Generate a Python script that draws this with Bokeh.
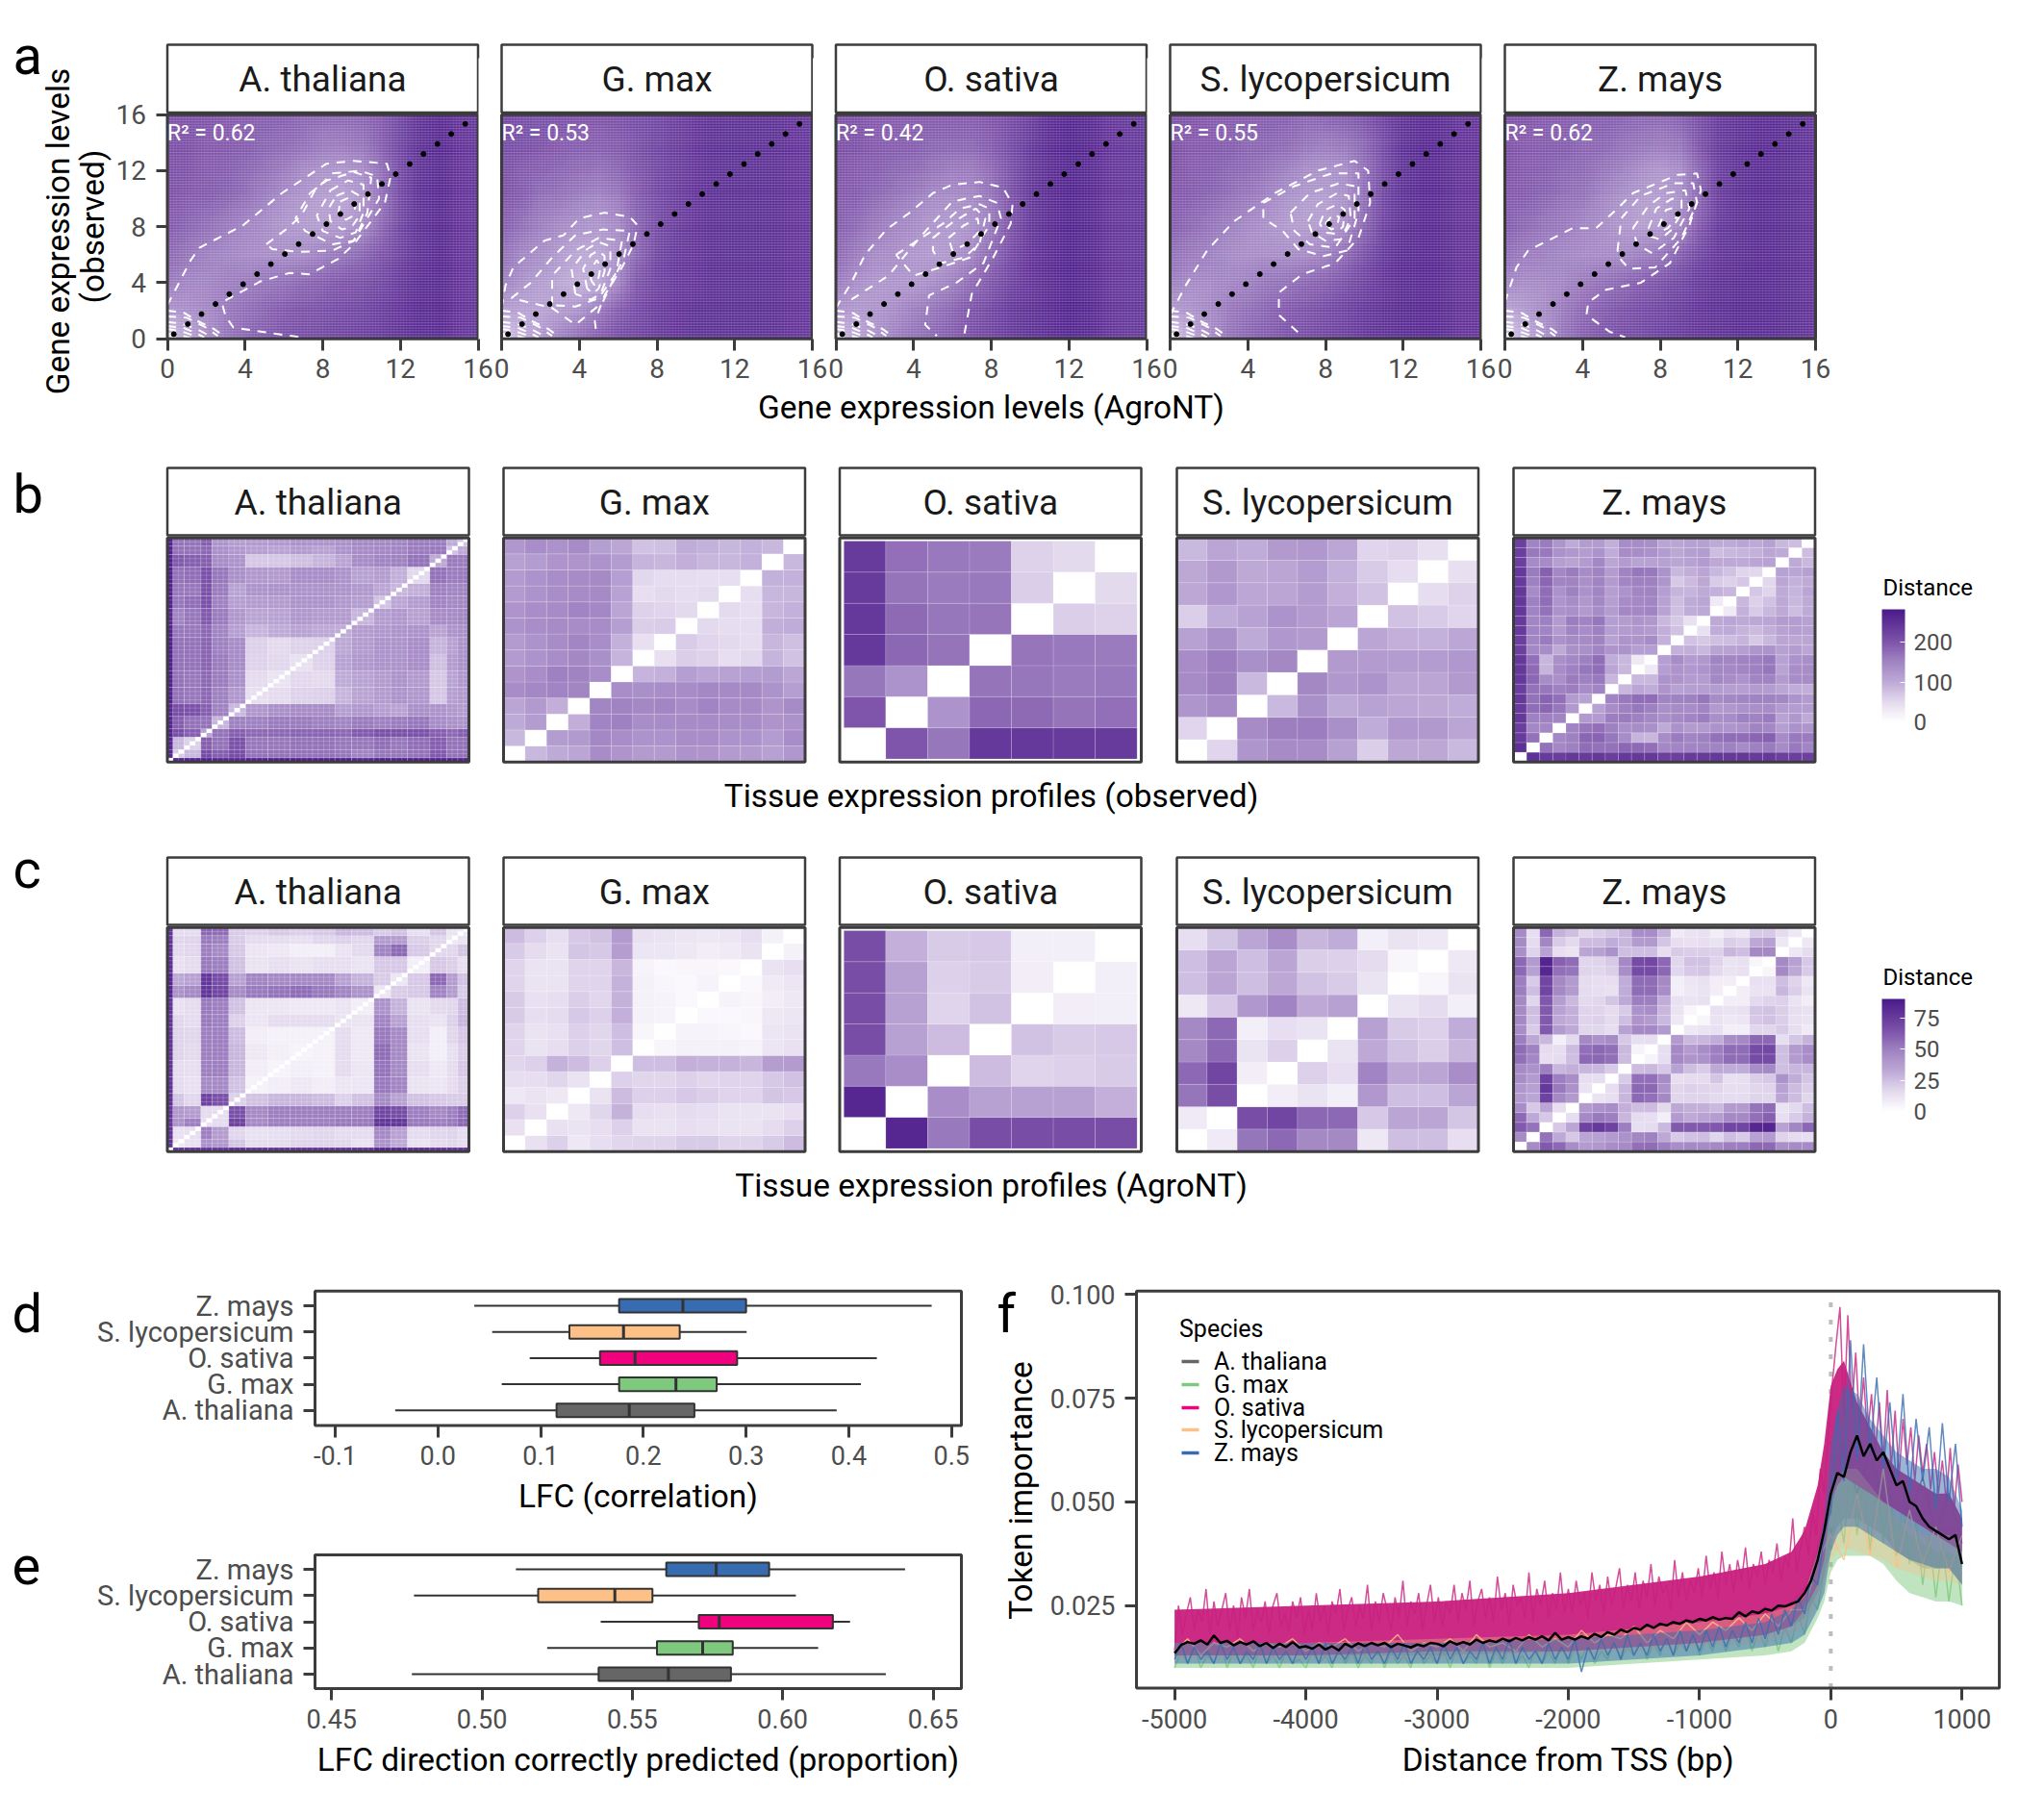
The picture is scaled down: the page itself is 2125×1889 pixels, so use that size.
import numpy as np
from bokeh.embed import file_html
from bokeh.resources import INLINE
from bokeh.plotting import figure
from bokeh.models import Range1d, LinearAxis, FixedTicker, Label, LinearColorMapper, ColorBar, NumeralTickFormatter, ColumnDataSource

SPECIES = ["A. thaliana", "G. max", "O. sativa", "S. lycopersicum", "Z. mays"]
COLORS = ["#666666", "#7fc97f", "#f0027f", "#fdc086", "#386cb0"]
R2 = ["0.62", "0.53", "0.42", "0.55", "0.62"]

# panel a: background density (darkness 0-100); rows y=16,14,...,0 and columns x=0..16
BG_ATH = [[72,72,72,70,70,68,68,66,65,65,66,70,78,88,92,86,84],[72,72,70,70,68,66,64,62,58,58,60,68,78,88,92,86,84],[72,72,70,68,66,62,58,52,48,46,50,62,76,88,92,86,84],[72,70,68,66,62,56,50,46,42,40,46,60,76,88,92,86,84],[70,66,62,58,54,50,46,44,42,44,50,64,78,88,92,86,84],[64,60,56,54,52,50,50,52,56,60,66,72,80,88,92,86,84],[58,54,54,56,58,60,62,66,68,72,74,78,84,90,92,86,84],[46,48,52,58,62,66,70,72,74,76,78,82,86,90,92,86,84],[25,38,50,60,66,70,74,76,78,80,82,84,88,90,92,86,84]]
BG_GMA = [[78,76,74,74,72,72,74,76,78,82,86,88,88,88,88,86,84],[76,74,72,70,68,68,70,74,78,82,86,88,88,88,88,86,84],[74,70,68,66,64,62,66,72,78,82,86,88,88,88,88,86,84],[72,68,62,60,56,54,58,68,76,82,86,88,88,88,88,86,84],[68,62,56,52,48,46,52,66,76,82,86,88,88,88,88,86,84],[62,54,50,44,38,38,48,66,78,84,86,88,88,88,88,86,84],[56,48,42,38,34,38,54,72,80,84,86,88,88,88,88,86,84],[42,40,40,44,48,58,68,76,82,86,88,88,88,88,88,86,84],[22,34,46,56,64,70,76,80,84,86,88,88,88,88,88,86,84]]
BG_OSA = [[72,72,70,70,70,70,70,70,72,76,82,90,94,92,86,84,84],[72,72,70,68,68,66,66,66,70,76,84,90,94,92,86,84,84],[72,70,68,66,64,60,58,58,64,74,84,90,94,92,86,84,84],[70,68,64,60,56,52,50,52,60,72,84,90,94,92,86,84,84],[68,64,58,54,50,46,44,48,58,72,84,90,94,92,86,84,84],[64,58,52,50,46,44,46,54,66,76,86,90,94,92,86,84,84],[58,50,46,46,46,50,56,64,72,80,86,90,94,92,86,84,84],[46,44,46,50,56,60,66,72,78,84,88,90,94,92,86,84,84],[28,38,48,56,62,66,70,76,80,84,88,90,94,92,86,84,84]]
BG_SLY = [[72,72,70,70,70,68,68,66,68,70,74,82,88,92,90,86,86],[72,70,70,68,66,66,64,60,58,60,66,76,88,92,90,86,86],[72,70,68,66,64,60,56,50,48,50,62,76,88,92,90,86,86],[70,68,66,62,58,54,48,44,42,48,62,78,88,92,90,86,86],[68,64,60,56,52,48,44,42,42,50,66,80,88,92,90,86,86],[62,58,56,52,50,50,50,52,56,64,74,84,90,92,90,86,86],[56,52,52,54,56,60,62,66,68,74,80,86,90,92,90,86,86],[42,46,52,58,62,66,70,72,76,80,84,88,90,92,90,86,86],[24,36,50,60,66,70,74,76,80,82,86,88,90,92,90,86,86]]
BG_ZMA = [[72,72,70,70,68,68,68,66,66,68,76,84,88,90,90,88,86],[72,70,68,68,66,66,62,60,58,60,72,84,88,90,90,88,86],[72,70,68,66,64,60,56,50,46,50,66,82,88,90,90,88,86],[70,68,66,62,60,54,48,44,42,48,66,82,88,90,90,88,86],[68,64,60,58,54,50,46,42,44,52,70,84,88,90,90,88,86],[62,58,56,54,52,52,52,56,60,68,78,86,88,90,90,88,86],[54,50,52,54,58,62,66,70,74,78,84,88,90,90,90,88,86],[38,44,50,58,64,68,72,76,78,82,86,88,90,90,90,88,86],[22,34,48,60,68,72,76,78,82,84,86,88,90,90,90,88,86]]
BACKGROUNDS = [BG_ATH, BG_GMA, BG_OSA, BG_SLY, BG_ZMA]
DIAG_DOTS = [0.33,1.05,1.76,2.48,3.19,3.9,4.62,5.33,6.05,6.76,7.48,8.19,8.91,9.62,10.33,11.05,11.76,12.48,13.19,13.91,14.62,15.34]

# panel a: density contours, (x, y) pairs in expression units
NEAR_ORIGIN = [[(0,2),(0.8,1.9),(1.5,1.3),(2.4,0.7),(2.9,0.2)],[(0,1.6),(1,1.5),(2,0.8),(2.6,0.2)],[(0,1.2),(0.7,1.1),(1.5,0.7),(2.2,0.2)],[(0,0.9),(0.8,0.8),(1.4,0.45),(1.9,0.1)],[(0,0.7),(0.8,0.5),(1.6,0.1)],[(0,0.35),(0.7,0.25),(1.2,0.05)],[(0,0.2),(0.5,0.15),(0.9,0.05)]]
C_ATH = [
 [(0,2.4),(1.2,5.6),(1.65,6.5),(3.9,8.1),(5.9,10.4),(8.2,12.5),(9.6,12.7),(11.3,12.5),(11.5,11.6),(11.2,9.7),(9.6,6.75),(8.8,5.7),(7.3,4.6),(6.3,4.7),(4.8,4.1),(2.8,2.6),(3,1.6),(3.4,0.8),(5.6,0.35),(6.9,0.1)],
 [(5.1,6.75),(6.2,7.9),(6.9,8.8),(7.6,10.6),(8.5,11.8),(9.9,12),(10.8,11.6),(10.9,10),(9.6,7),(8.5,6.3),(6.8,6.2),(5.4,6.4),(5.1,6.75)],
 [(7.35,10.4),(8.2,11.3),(9.6,11.9),(10.5,11.5),(10.3,9),(9.6,7),(8.5,6.75),(7.1,7.7),(6.6,8.6),(7.35,10.4)],
 [(8.4,10.6),(9.3,11.3),(10.1,11),(10.1,9),(9.7,7.6),(8.9,7.2),(8,7.7),(7.7,8.8),(8.4,10.6)],
 [(8.7,10.2),(9.4,10.6),(9.9,10.2),(9.9,8.8),(9.5,8),(9,7.8),(8.4,8.4),(8.3,9.3),(8.7,10.2)],
 [(8.9,9.8),(9.4,10.1),(9.7,9.6),(9.6,8.8),(9.2,8.5),(8.8,8.9),(8.9,9.8)]]
C_GMA = [
 [(0,2.2),(0.2,3.8),(0.6,5.1),(2.2,7),(3.2,7.4),(4,8.6),(5.3,9),(6.6,8.7),(7,8.1),(6.8,6.75),(6.2,5.1),(5.3,3.1),(4.8,1.25),(4.9,0.2)],
 [(0.5,2.9),(1.5,4),(2.6,5.8),(3.8,7.4),(5.2,7.8),(6.6,7.7),(6.3,5.8),(5.2,2.6),(3.8,1),(2.6,2.2),(0.5,2.9)],
 [(2.6,2.4),(2.6,4.5),(3.8,6.3),(5,7.2),(6.2,7),(5.9,4.7),(5,2.9),(3.8,2.3),(2.6,2.4)],
 [(3.8,3.2),(3.6,5),(4.4,6.4),(5,6.9),(5.6,6.6),(5.6,5),(5.1,3.2),(4.6,2.8),(3.8,3.2)],
 [(4.4,3.6),(4.2,5),(4.6,6),(5,6.3),(5.3,5.9),(5.3,4.8),(5,3.6),(4.7,3.2),(4.4,3.6)],
 [(4.6,4.2),(4.6,5),(4.9,5.6),(5.1,5.2),(5,4.4),(4.8,3.8),(4.6,4.2)]]
C_OSA = [
 [(0,2.2),(0.8,4),(1.5,6),(2.6,7.8),(3.8,9),(5,10.4),(6,11),(7.4,11.2),(8.6,10.8),(9.1,9.6),(9,8.2),(8.1,5.8),(7,3.2),(6.6,0.2)],
 [(0.8,2.8),(2.7,4.5),(4.3,7.2),(6,9.8),(7.4,10.2),(8.3,9.7),(8.5,8.6),(7.6,5.4),(6.2,4),(4.8,3.1),(4.6,1),(5.2,0.2)],
 [(3.1,6),(5.6,8.3),(6.4,9.3),(7.4,9.6),(7.9,9.3),(7.9,8.1),(6.9,5.8),(5.4,5.1),(4,4.5),(3.1,6)],
 [(5,7.2),(6,8.3),(7.2,9.3),(7.7,8.6),(7.4,6.8),(6.6,5.8),(5.4,5.4),(5,6.3),(5,7.2)],
 [(5.8,7.2),(6.6,8.1),(7.3,8.6),(7.4,7.7),(6.8,6.8),(6,6.3),(5.8,7.2)]]
C_SLY = [
 [(0,1.7),(0.8,3.8),(1.9,6.3),(3.3,8.4),(5.4,10.4),(7.6,12),(9.5,12.7),(10.2,12),(10.3,9.7),(9.7,7.2),(8.5,5.4),(6.8,4.6),(5.6,3.3),(5.6,1.7),(6.8,0.2)],
 [(4.8,9.7),(6.4,10.9),(8.3,11.8),(9.7,11.8),(9.7,9),(9.1,6.3),(7.9,5.9),(6.6,6.4),(5.8,7.7),(4.8,8.6),(4.8,9.7)],
 [(6.2,9),(7.2,10.4),(8.7,11.1),(9.5,10.9),(9.5,8.6),(8.5,6.5),(7.2,6.75),(6.4,7.7),(6.2,9)],
 [(7.1,8.4),(7.6,9.6),(8.6,10.4),(9.2,10.2),(9.3,8.6),(8.8,7.1),(8,7),(7.3,7.6),(7.1,8.4)],
 [(7.7,8.2),(8,9.2),(8.6,9.6),(9,9.2),(8.9,8),(8.5,7.5),(8,7.6),(7.7,8.2)],
 [(8,8.2),(8.4,8.9),(8.7,8.7),(8.6,8),(8.3,7.8),(8,8.2)]]
C_ZMA = [
 [(0,2.6),(0.6,5.1),(1.2,6.3),(3.5,7.9),(4.7,7.9),(5.8,9.3),(6.6,10.4),(8.9,11.7),(9.9,11.8),(10.1,10.6),(9.5,8.1),(8.5,5.4),(7,4),(5.2,3.5),(4.3,2.6),(4.2,1.7),(5.4,0.5),(6.2,0.1)],
 [(5.8,6.3),(6,8.6),(7,10.2),(8.7,11.1),(9.7,11.1),(9.9,9.7),(9.1,7.2),(7.75,5.1),(6.4,5),(6,5.6),(5.8,6.3)],
 [(6.6,7.9),(7.4,9.5),(8.3,10.4),(9.3,10.6),(9.5,9.3),(8.7,7.2),(7.6,6.1),(6.8,6.75),(6.6,7.9)],
 [(7.4,7.9),(7.8,9.3),(8.6,10),(9.1,9.9),(9.1,9),(8.6,7.8),(8,7.1),(7.5,7.3),(7.4,7.9)],
 [(7.9,8),(8.3,9.2),(8.8,9.4),(8.9,8.8),(8.4,7.9),(8.1,7.7),(7.9,8)]]
CONTOURS = [C_ATH, C_GMA, C_OSA, C_SLY, C_ZMA]

# panels b/c: block edges (A. thaliana, 54 tissues read in groups)
ATH_EDGES = [0,1,3,6,8,11,14,18,22,26,30,33,37,40,43,47,50,52,54]
ATH_B = [[5,262,265,268,265,262,268,272,272,272,270,262,268,270,272,268,270,268],[65,85,210,190,210,170,170,170,170,165,150,165,165,170,195,170,170],[60,190,170,205,165,165,170,170,165,165,175,165,175,190,170,170],[110,170,190,180,180,185,185,180,195,205,205,205,190,180,190],[90,155,155,160,160,155,150,160,155,160,165,140,135,130],[85,125,135,140,140,115,125,115,110,135,130,125,120],[45,48,58,60,90,108,120,130,125,70,115,122],[38,52,50,100,110,120,132,122,70,110,125],[42,58,110,125,130,130,138,78,120,132],[60,103,120,130,130,138,90,112,130],[100,120,125,130,132,108,130,135],[90,118,125,112,142,142,146],[75,105,118,150,145,146],[90,95,155,150,150],[52,170,160,160],[103,162,160],[75,102],[75]]
ATH_C = [[3,78,78,78,78,80,78,78,78,78,78,78,85,85,80,78,78,78],[10,13,42,40,23,15,15,18,18,17,13,42,33,13,16,17,15],[14,50,38,17,13,14,16,17,15,15,46,36,15,17,18,15],[13,15,72,46,50,50,50,52,52,78,78,52,50,52,58],[14,66,46,50,50,50,50,50,70,68,50,46,50,56],[19,24,28,28,26,19,24,45,36,24,22,21,21],[6,8,10,8,11,11,52,48,12,11,15,19],[5,7,6,15,11,54,46,14,10,15,22],[5,6,15,10,56,46,12,7,14,20],[6,15,10,52,46,14,7,17,22],[12,12,48,36,14,12,19,28],[8,42,29,12,16,17,26],[11,21,22,48,38,21],[11,22,57,38,24],[7,22,20,14],[17,17,23],[10,12],[10]]

# panels b/c: distances, upper triangle, row r from the bottom, column c > r
GMA_B = [[85,100,105,140,128,120,120,130,128,120,120,112,125],[118,122,145,138,130,130,138,138,130,130,118,138],[95,150,155,138,140,142,142,138,138,128,132],[148,152,146,148,140,150,142,142,128,142],[138,135,138,140,145,143,143,130,115],[90,92,115,105,110,115,118,104],[42,62,58,44,52,90,76],[64,56,50,46,88,78],[50,46,46,95,98],[48,44,88,92],[44,87,87],[92,92],[85]]
GMA_C = [[13,19,10,14,17,18,18,21,21,18,18,21,26],[13,12,14,19,12,12,14,13,12,12,15,19],[10,17,29,14,13,15,14,12,12,12,14],[12,26,19,19,22,20,18,18,23,22],[19,17,17,19,17,18,18,22,24],[25,25,30,29,29,28,37,38],[4,6,6,6,5,11,13],[5,5,4,3,11,12],[3,3,4,10,11],[5,4,8,10],[3,9,11],[12,14],[6]]
OSA_B = [[200,165,238,238,235,235],[130,180,178,168,172],[168,165,160,162],[167,162,160],[62,58],[50]]
OSA_C = [[84,52,67,67,67,67],[44,36,36,36,30],[26,18,19,21],[24,21,22],[8,7],[7]]
SLY_B = [[56,127,142,140,112,62,103,103,84],[142,156,158,135,98,125,123,105],[84,135,100,110,104,102,97],[146,125,130,105,105,122],[122,120,118,118,125],[105,94,92,104],[76,66,56],[46,58],[42]]
SLY_C = [[9,53,57,46,46,10,25,25,14],[67,70,58,57,22,34,34,23],[8,12,7,40,25,25,34],[19,14,48,33,34,44],[12,32,24,20,28],[36,21,19,31],[12,15,7],[4,12],[10]]
ZMA_B = [[250,235,232,240,235,240,232,238,240,240,228,228,235,235,238,240,240,235,238,228,230,228],
 [170,145,155,175,170,170,180,178,172,145,148,150,148,150,155,142,155,160,142,163,150],
 [145,155,182,185,165,140,90,88,140,160,150,155,170,175,175,182,188,142,163,160],
 [150,165,172,155,135,140,135,100,132,120,120,130,127,132,150,145,115,132,127],
 [122,120,158,160,155,145,135,143,150,158,135,140,155,152,160,108,125,100],
 [110,140,155,165,155,135,142,140,150,122,125,132,135,140,120,118,118],
 [150,162,175,175,150,152,155,165,140,145,148,152,152,145,130,120],
 [88,105,98,128,110,115,115,118,115,115,120,118,105,98,95],
 [85,85,130,128,120,118,145,140,130,148,152,120,140,140],
 [30,115,128,125,128,146,145,148,155,165,108,138,140],
 [115,140,120,124,150,148,152,155,162,110,132,136],
 [92,95,85,108,110,115,127,130,112,118,105],
 [75,68,78,80,90,68,85,105,103,105],
 [40,97,100,90,82,95,110,115,112],
 [102,105,100,103,105,120,118,112],
 [28,92,66,85,102,80,100],
 [85,60,76,102,85,100],
 [70,55,100,90,105],
 [52,105,92,100],
 [110,105,112],
 [100,85],
 [80]]
ZMA_C = [[45,62,57,44,38,40,44,45,55,56,50,44,46,45,46,50,50,57,57,43,45,45],
 [54,32,22,34,36,38,42,47,49,33,21,24,25,17,25,21,36,38,18,15,14],
 [22,34,72,76,72,50,14,15,27,62,62,62,63,70,70,84,85,35,47,58],
 [14,46,52,50,28,15,14,7,38,32,35,37,46,46,55,60,14,21,29],
 [39,42,44,30,25,26,16,32,30,30,27,38,38,53,56,12,16,25],
 [12,14,28,57,55,46,17,18,18,16,15,15,18,17,34,26,17],
 [14,27,58,58,42,17,19,18,17,14,14,17,18,35,26,20],
 [21,55,55,45,14,15,15,23,13,14,20,22,42,31,23],
 [26,27,22,35,25,21,32,31,31,44,46,25,28,28],
 [5,14,46,41,42,50,56,56,68,68,25,38,44],
 [14,46,38,44,50,56,56,68,69,25,39,44],
 [39,27,28,31,44,46,58,58,14,23,29],
 [10,12,13,7,7,17,17,21,14,9],
 [4,12,10,11,22,24,20,13,12],
 [13,12,13,23,24,20,14,13],
 [8,8,16,18,19,12,8],
 [8,12,12,28,20,12],
 [13,13,25,18,10],
 [4,46,33,21],
 [46,36,22],
 [10,15],
 [10]]
TRI_B = [None, GMA_B, OSA_B, SLY_B, ZMA_B]
TRI_C = [None, GMA_C, OSA_C, SLY_C, ZMA_C]

# panel d/e: box statistics in SPECIES order
D_LOW = [-0.0416, 0.0621, 0.0894, 0.0528, 0.0354]
D_Q1  = [0.1155, 0.1764, 0.1578, 0.128, 0.1764]
D_MED = [0.1863, 0.2317, 0.1919, 0.1807, 0.2385]
D_Q3  = [0.2497, 0.2714, 0.2913, 0.2354, 0.3]
D_HIGH = [0.3882, 0.4118, 0.4273, 0.3006, 0.4807]
E_LOW = [0.4767, 0.5217, 0.5395, 0.4774, 0.5113]
E_Q1  = [0.5388, 0.5582, 0.5721, 0.5187, 0.5613]
E_MED = [0.562, 0.5734, 0.5789, 0.5442, 0.5779]
E_Q3  = [0.5828, 0.5834, 0.6167, 0.5567, 0.5955]
E_HIGH = [0.6343, 0.6118, 0.6224, 0.6044, 0.6407]

# panel f (values x 1000)
KNOTS = [-5000,-4000,-3000,-2000,-1000,-500,-300,-200,-100,-50,0,50,100,200,300,400,500,600,700,800,900,1000]
BAND_HI = [[16,16,17,18,22,24,26,30,40,46,58,62,66,64,60,56,50,48,46,44,44,42],
 [14,14,14,15,17,19,21,25,34,40,52,56,58,56,54,50,46,42,40,38,38,36],
 [24,25,26,28,32,35,38,43,54,64,78,82,84,74,68,62,58,56,54,52,52,46],
 [16,16,17,18,21,23,25,28,38,44,52,56,58,58,54,50,46,44,42,42,42,40],
 [16,16,16,17,19,21,24,27,38,46,64,72,78,76,70,66,62,60,58,58,56,48]]
BAND_LO = [[13,13,13,14,16,18,20,22,28,32,40,44,46,46,44,42,38,36,34,34,34,30],
 [10,10,10,10,12,13,14,16,22,26,33,36,37,37,37,35,31,28,27,26,26,25],
 [13,13,14,14,16,18,20,24,30,36,50,54,56,54,52,50,48,46,44,42,40,38],
 [12,12,12,13,15,16,18,20,26,30,36,38,39,38,37,36,34,33,32,31,31,30],
 [11,11,11,11,13,15,16,18,24,28,38,42,44,44,42,40,38,36,35,34,34,30]]
LINE_A = [13,16,15,17,14,16,15,16,14,17,15,16,14,17,15,16,15,17,14,16,15,17,15,18,15,16,15,18,16,17,16,19,17,19,18,20,18,21,19,22,19,22,20,23,21,25,22,26,26,38,48,64,52,62,50,58,46,56,42,52,40]
LINE_G = [10,14,11,15,10,13,11,16,10,14,11,13,10,15,11,13,10,14,11,12,10,14,11,13,10,15,11,14,10,13,11,15,10,14,11,13,10,15,11,13,11,14,10,15,11,13,11,16,10,14,11,15,11,13,10,15,11,14,11,16,11,15,12,16,11,14,12,17,12,15,13,17,12,16,13,18,13,16,14,18,13,17,14,19,14,18,15,20,14,19,15,21,14,20,16,23,18,27,24,34,38,50,40,60,42,56,38,58,40,54,37,50,35,46,30,42,27,40,26,38,25]
LINE_O = [14,25,18,23,27,19,24,21,29,18,26,20,24,28,19,25,17,27,22,29,19,24,21,26,18,25,28,20,23,19,26,22,27,18,24,19,28,21,25,18,26,23,29,19,24,27,20,25,22,30,19,26,21,28,24,19,27,22,31,20,26,23,28,19,25,30,21,27,20,26,23,30,21,28,24,31,20,26,29,22,27,21,32,24,28,20,30,25,27,22,33,21,29,25,31,22,28,24,33,23,29,23,31,25,28,22,33,26,30,23,32,25,29,34,24,30,26,33,24,31,27,35,25,32,28,30,24,36,27,33,26,31,28,34,27,37,29,33,27,38,30,35,28,36,31,39,29,35,32,38,30,36,33,40,31,37,34,46,33,39,44,37,48,42,58,52,66,78,88,97,70,95,72,86,68,80,66,76,62,74,60,77,58,72,56,70,59,68,55,66,57,64,53,62,52,60,50,63,48,59,50]
LINE_S = [14,17,13,16,15,17,14,16,15,17,14,16,15,17,14,16,15,18,14,16,15,17,14,18,15,16,14,18,15,17,15,19,16,18,17,20,16,19,17,21,18,21,19,22,19,23,20,24,24,36,42,36,52,37,58,34,48,35,44,33,42]
LINE_Z = [12,16,11,15,12,14,11,16,12,15,11,14,12,16,11,15,12,14,11,15,12,15,11,16,11,14,12,15,11,16,12,14,11,15,12,16,11,14,12,15,11,16,12,15,11,14,12,16,11,15,12,17,11,15,12,14,11,16,12,15,12,17,9,15,12,17,13,16,12,18,13,16,13,18,14,17,13,19,14,18,14,19,15,20,15,19,16,21,16,22,17,23,18,24,20,27,23,32,30,42,48,72,55,89,60,88,62,80,58,74,55,76,52,70,55,68,48,69,50,64,44]
LINE_MEAN = [13.5,15.5,16.2,15.8,16.6,15.6,17.8,16.0,16.5,15.4,16.2,15.6,16.4,15.2,16.0,14.8,15.8,15.0,16.2,14.9,15.2,14.6,15.6,14.4,15.2,14.2,15.8,15.0,15.9,15.2,16.0,15.4,16.0,15.0,15.8,15.4,14.9,15.6,15.2,16.0,15.8,15.2,16.4,15.6,16.2,15.6,16.8,16.0,16.6,16.2,17.0,16.4,17.2,16.6,17.4,16.8,17.6,16.6,18.4,16.8,17.4,16.8,17.6,17.0,18.2,17.4,18.6,18.0,19.2,18.6,19.6,19.2,20.4,19.6,20.6,20.2,21.0,20.6,21.4,21.0,21.8,21.4,22.2,21.6,22.0,21.8,23.4,22.4,23.6,23.2,24.2,23.8,25.0,24.8,25.4,26.0,28.0,31.0,36.0,43.0,52,57,56,62,66,61,64,60,62,58,54,55,50,49,46,44,43,42,41,42,35]

# page layout, in screenshot pixels
W, H = 2100, 1870
FONT = "Roboto"
DARK = "#3c3c3c"
GREY = "#4d4d4d"
anchors_t = [0, .18, .36, .54, .72, 1]
anchors_c = [(255,255,255),(227,217,238),(189,168,214),(160,131,194),(124,82,169),(74,26,138)]
tt = np.linspace(0, 1, 256)
PURPLES = ["#%02x%02x%02x" % tuple(int(round(np.interp(t, anchors_t, [c[i] for c in anchors_c]))) for i in range(3)) for t in tt]

p = figure(width=W, height=H, x_range=Range1d(0, W), y_range=Range1d(H, 0), toolbar_location=None,
           output_backend="svg", min_border=0, x_axis_type=None, y_axis_type=None, outline_line_color=None)
p.grid.visible = False

def xr(name, v0, px0, v1, px1):
    k = (v1 - v0) / (px1 - px0)
    p.extra_x_ranges[name] = Range1d(v0 + (0 - px0) * k, v0 + (W - px0) * k)
def yr(name, v0, px0, v1, px1):
    k = (v1 - v0) / (px1 - px0)
    p.extra_y_ranges[name] = Range1d(v0 + (H - px0) * k, v0 + (0 - px0) * k)

def text(x, y, s, size, color="black", align="center", baseline="middle", angle=0.0):
    p.add_layout(Label(x=x, y=y, text=s, text_font=FONT, text_font_size=f"{size}px", text_color=color,
                       text_align=align, text_baseline=baseline, angle=angle))

def xaxis(name, loc, ticks, size=27, fmt=None, standoff=9):
    a = LinearAxis(x_range_name=name, fixed_location=loc, ticker=FixedTicker(ticks=ticks), axis_line_color=None,
                   major_tick_line_color=DARK, major_tick_line_width=3, major_tick_out=12, major_tick_in=0,
                   minor_tick_line_color=None, major_label_text_font=FONT, major_label_text_font_size=f"{size}px",
                   major_label_text_color=GREY, major_label_standoff=standoff)
    if fmt: a.formatter = NumeralTickFormatter(format=fmt)
    p.add_layout(a, "below")
def yaxis(name, loc, ticks, size=27, fmt=None, overrides=None):
    a = LinearAxis(y_range_name=name, fixed_location=loc, ticker=FixedTicker(ticks=ticks), axis_line_color=None,
                   major_tick_line_color=DARK, major_tick_line_width=3, major_tick_out=12, major_tick_in=0,
                   minor_tick_line_color=None, major_label_text_font=FONT, major_label_text_font_size=f"{size}px",
                   major_label_text_color=GREY, major_label_standoff=10)
    if fmt: a.formatter = NumeralTickFormatter(format=fmt)
    if overrides: a.major_label_overrides = overrides
    p.add_layout(a, "left")

def strip(left, right, top, bottom, label):
    p.quad(left=[left], right=[right], top=[top], bottom=[bottom], fill_color="white", line_color=DARK, line_width=2.5)
    text((left + right) / 2, (top + bottom) / 2 + 1, label, 37, "#1a1a1a")

def frame(xn, yn, x0, x1, y0, y1):
    p.quad(left=[x0], right=[x1], bottom=[y0], top=[y1], fill_color=None, line_color=DARK, line_width=3,
           x_range_name=xn, y_range_name=yn)

def letter(x, y, s):
    text(x, y, s, 56, align="left", baseline="alphabetic")

# ---- panel a ----
A_LEFT = [173.5, 521, 868.5, 1216, 1564]
A_W = 323
map_a = LinearColorMapper(palette=PURPLES, low=0, high=100)
SOFTEN = [-0.375, -0.125, 0.125, 0.375]
for i, sp in enumerate(SPECIES):
    xn, yn = f"ax{i}", f"ay{i}"
    xr(xn, 0, A_LEFT[i], 16, A_LEFT[i] + A_W)
    yr(yn, 0, 351.7, 16, 118.7)
    arr = np.array(BACKGROUNDS[i][::-1], dtype=float)
    # the same cells, laid over each other with part-cell shifts, so that the block edges soften
    layer = 0
    for fx in SOFTEN:
        for fy in SOFTEN:
            layer += 1
            p.image(image=[arr], x=-0.5 + fx, y=-1 + 2 * fy, dw=17, dh=18, color_mapper=map_a, global_alpha=1 / layer,
                    x_range_name=xn, y_range_name=yn)
    L, R = A_LEFT[i], A_LEFT[i] + A_W
    p.quad(left=[L - 24, R, L - 24], right=[L, R + 24, R + 24], top=[60, 60, 351.7], bottom=[400, 400, 400], fill_color="white", line_color=None)
    strip(L, R, 46, 116.5, sp)
    gx = np.arange(0.16, 16, 0.16)
    gy = np.arange(0.19, 16, 0.19)
    p.segment(gx, 0 * gx, gx, 0 * gx + 16, line_color="white", line_alpha=0.09, line_width=1, x_range_name=xn, y_range_name=yn)
    p.segment(0 * gy, gy, 0 * gy + 16, gy, line_color="white", line_alpha=0.19, line_width=1.2, x_range_name=xn, y_range_name=yn)
    for c in CONTOURS[i] + NEAR_ORIGIN:
        p.line([q[0] for q in c], [q[1] for q in c], line_color="white", line_width=2, line_dash=[9, 8], x_range_name=xn, y_range_name=yn)
    p.scatter(DIAG_DOTS, DIAG_DOTS, marker="circle", size=5, color="black", x_range_name=xn, y_range_name=yn)
    frame(xn, yn, 0, 16, 0, 16)
    text(L, 138, f"R² = {R2[i]}", 23, "white", align="left")
    xaxis(xn, 351.7, [0, 4, 8, 12, 16], 28)
yaxis("ay0", 173.5, [0, 4, 8, 12, 16], 28)
text(1030, 423, "Gene expression levels (AgroNT)", 33.4)
text(60, 240, "Gene expression levels", 33.4, angle=np.pi / 2)
text(96, 235, "(observed)", 33.4, angle=np.pi / 2)
letter(13, 57, "a")

# ---- panels b, c ----
H_LEFT = [173.5, 523, 872.5, 1223, 1573]
H_W = 313.5

def full(tri):
    n = len(tri) + 1
    m = np.zeros((n, n))
    for r, row in enumerate(tri):
        for k, v in enumerate(row):
            m[r, r + 1 + k] = m[r + 1 + k, r] = v
    return m

def blocks(tri, edges, mapper, xn, yn):
    n = len(edges) - 1
    m = np.zeros((n, n))
    for r, row in enumerate(tri):
        for k, v in enumerate(row):
            m[r, r + k] = m[r + k, r] = v
    L, R, B, T, V = [], [], [], [], []
    for r in range(n):
        for c in range(n):
            L.append(edges[c]); R.append(edges[c + 1]); B.append(edges[r]); T.append(edges[r + 1]); V.append(m[r, c])
    src = ColumnDataSource(dict(l=L, r=R, b=B, t=T, v=V))
    p.quad(left="l", right="r", bottom="b", top="t", fill_color={"field": "v", "transform": mapper}, line_color=None,
           source=src, x_range_name=xn, y_range_name=yn)
    N = edges[-1]
    g = np.arange(1, N)
    p.segment(g, 0 * g, g, 0 * g + N, line_color="white", line_alpha=0.2, line_width=1, x_range_name=xn, y_range_name=yn)
    p.segment(0 * g, g, 0 * g + N, g, line_color="white", line_alpha=0.2, line_width=1, x_range_name=xn, y_range_name=yn)
    d = np.arange(N)
    p.quad(left=d, right=d + 1, bottom=d, top=d + 1, fill_color="white", line_color=None, x_range_name=xn, y_range_name=yn)

def heat(m, mapper, xn, yn):
    n = m.shape[0]
    L, R, B, T, V = [], [], [], [], []
    for r in range(n):
        for c in range(n):
            L.append(c); R.append(c + 1); B.append(r); T.append(r + 1); V.append(m[r, c])
    src = ColumnDataSource(dict(l=L, r=R, b=B, t=T, v=V))
    p.quad(left="l", right="r", bottom="b", top="t", fill_color={"field": "v", "transform": mapper}, line_color="white",
           line_alpha=0.15, line_width=1, source=src, x_range_name=xn, y_range_name=yn)

def heat_row(tag, top, mapper, ath, tris):
    for i, sp in enumerate(SPECIES):
        xn, yn = f"{tag}x{i}", f"{tag}y{i}"
        n = 54 if i == 0 else len(tris[i]) + 1
        pad = 0.1 if i == 2 else 0
        ptop = top + 72.7
        pbot = top + 305.7
        xr(xn, -pad, H_LEFT[i], n + pad, H_LEFT[i] + H_W)
        yr(yn, -pad, pbot, n + pad, ptop)
        strip(H_LEFT[i], H_LEFT[i] + H_W, top, top + 70, sp)
        if i == 0:
            blocks(ath, ATH_EDGES, mapper, xn, yn)
        else:
            heat(full(tris[i]), mapper, xn, yn)
        frame(xn, yn, -pad, n + pad, -pad, n + pad)

map_b = LinearColorMapper(palette=PURPLES, low=0, high=282)
map_c = LinearColorMapper(palette=PURPLES, low=0, high=90)
heat_row("b", 486, map_b, ATH_B, TRI_B)
heat_row("c", 891, map_c, ATH_C, TRI_C)
text(1030, 827, "Tissue expression profiles (observed)", 33.4)
text(1030, 1232, "Tissue expression profiles (AgroNT)", 33.4)
letter(13, 513, "b")
letter(13, 903, "c")

def cbar(mapper, ticks, bottom):
    cb = ColorBar(color_mapper=mapper, ticker=FixedTicker(ticks=ticks), width=24, height=117, padding=0, margin=0,
                  location=(1956, H - bottom), major_label_text_font=FONT,
                  major_label_text_font_size="24px", major_label_text_color=GREY, major_tick_line_color="white",
                  major_tick_in=5, major_tick_out=0, label_standoff=9, background_fill_alpha=0)
    p.add_layout(cb, "center")
    text(1957, bottom - 140, "Distance", 24, align="left")
cbar(map_b, [0, 100, 200], 750)
cbar(map_c, [0, 25, 50, 75], 1155)

# ---- panels d, e ----
def box_panel(tag, x0, px0, x1, px1, top, bottom, y5, y1, ticks, fmt, LOW, Q1, MED, Q3, HIGH):
    xn, yn = f"{tag}x", f"{tag}y"
    xr(xn, x0, px0, x1, px1)
    yr(yn, 1, y1, 5, y5)
    ys = [1, 2, 3, 4, 5]
    kw = dict(x_range_name=xn, y_range_name=yn)
    p.segment(LOW, ys, HIGH, ys, line_color="#333333", line_width=2, **kw)
    p.quad(left=Q1, right=Q3, bottom=[y - .26 for y in ys], top=[y + .26 for y in ys], fill_color=COLORS, line_color="#333333", line_width=2, **kw)
    p.segment(MED, [y - .26 for y in ys], MED, [y + .26 for y in ys], line_color="#333333", line_width=3, **kw)
    lo_px, hi_px = 327, 999
    k = (x1 - x0) / (px1 - px0)
    p.quad(left=[x0 + (lo_px - px0) * k], right=[x0 + (hi_px - px0) * k], bottom=[1 + (bottom - y1) * 4 / (y5 - y1)],
           top=[1 + (top - y1) * 4 / (y5 - y1)], fill_color=None, line_color=DARK, line_width=3, **kw)
    xaxis(xn, bottom, ticks, 27, fmt)
    yaxis(yn, 327, ys, 29, None, {i + 1: s for i, s in enumerate(SPECIES)})

box_panel("d", -0.1, 348, 0.5, 988.7, 1341.8, 1481.5, 1357, 1465.8, [-0.1, 0, 0.1, 0.2, 0.3, 0.4, 0.5], "0.0", D_LOW, D_Q1, D_MED, D_Q3, D_HIGH)
box_panel("e", 0.45, 344.2, 0.65, 969.5, 1616, 1755, 1631, 1740, [0.45, 0.5, 0.55, 0.6, 0.65], "0.00", E_LOW, E_Q1, E_MED, E_Q3, E_HIGH)
text(663, 1555, "LFC (correlation)", 33.4)
text(663, 1829, "LFC direction correctly predicted (proportion)", 33.4)
letter(12, 1365, "d")
letter(12, 1626, "e")

# ---- panel f ----
xr("fx", -5000, 1220.6, 1000, 2039.3)
yr("fy", 0.025, 1668.7, 0.1, 1345.3)
fk = dict(x_range_name="fx", y_range_name="fy")
p.line([0, 0], [0.0051, 0.1008], line_color="#bdbdbd", line_width=4, line_dash=[5, 13], **fk)
X30 = list(range(-5000, 1001, 30))
X50 = list(range(-5000, 1001, 50))
X100 = list(range(-5000, 1001, 100))
LINES = [(X100, LINE_A), (X50, LINE_G), (X30, LINE_O), (X100, LINE_S), (X50, LINE_Z)]
BAND_COLORS = ["#666666", "#7fc97f", "#c8207e", "#fdc086", "#386cb0"]
ALPHA = [0.45, 0.5, 0.95, 0.35, 0.5]
for i in range(5):
    p.varea(x=KNOTS, y1=np.array(BAND_LO[i]) / 1000, y2=np.array(BAND_HI[i]) / 1000, fill_color=BAND_COLORS[i], fill_alpha=ALPHA[i], **fk)
    xs, ys = LINES[i]
    p.line(xs, np.array(ys) / 1000, line_color=BAND_COLORS[i], line_width=1.5, line_alpha=0.8, **fk)
p.line(X50, np.array(LINE_MEAN) / 1000, line_color="black", line_width=2.5, **fk)
p.quad(left=[-5290], right=[1284], bottom=[0.0051], top=[0.1008], fill_color=None, line_color=DARK, line_width=3, **fk)
xaxis("fx", 1755, [-5000, -4000, -3000, -2000, -1000, 0, 1000], 27, "0")
yaxis("fy", 1181, [0.025, 0.05, 0.075, 0.1], 27, "0.000")
text(1630, 1829, "Distance from TSS (bp)", 33.4)
text(1061, 1549, "Token importance", 33.4, angle=np.pi / 2)
letter(1036, 1365, "f")
text(1225.5, 1381, "Species", 25, align="left")
LEG_Y = [1415, 1439, 1463, 1486, 1510]
for i, sp in enumerate(SPECIES):
    p.segment([1228], [LEG_Y[i]], [1246], [LEG_Y[i]], line_color=COLORS[i], line_width=3.5)
    text(1261.5, LEG_Y[i], sp, 25, align="left")

open("out.html", "w").write(file_html(p, INLINE))
